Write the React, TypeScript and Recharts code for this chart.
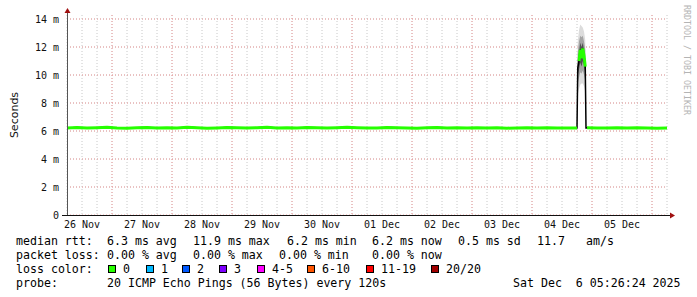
import React from 'react';
import { ComposedChart, Line, Area, XAxis, YAxis, CartesianGrid } from 'recharts';

// hours since 26 Nov 06:00 (plot start); 2.5 px per hour
const hours = [
  0, 4, 8, 12, 16, 20, 24, 28, 32, 36, 40, 44, 48, 52, 56, 60, 64, 68, 72, 76,
  80, 84, 88, 92, 96, 100, 104, 108, 112, 116, 120, 124, 128, 132, 136, 140, 144, 148, 152, 156,
  160, 164, 168, 172, 176, 180, 184, 188, 192, 196, 200, 204,
  204.3, 204.8, 205.3, 205.8, 206.3, 206.8, 207.3, 207.6,
  208, 212, 216, 220, 224, 228, 232, 236, 240,
];

// median rtt in ms
const median = [
  6.22, 6.25, 6.21, 6.24, 6.26, 6.22, 6.20, 6.23, 6.25, 6.21, 6.24, 6.22, 6.26, 6.23, 6.20, 6.22, 6.25, 6.24, 6.21, 6.23,
  6.26, 6.22, 6.24, 6.21, 6.25, 6.23, 6.22, 6.24, 6.26, 6.23, 6.21, 6.22, 6.25, 6.24, 6.22, 6.20, 6.23, 6.25, 6.22, 6.24,
  6.21, 6.23, 6.22, 6.24, 6.20, 6.22, 6.23, 6.21, 6.24, 6.22, 6.21, 6.22,
  10.5, 11.0, 11.8, 11.2, 11.9, 11.4, 10.6, 6.22,
  6.23, 6.21, 6.22, 6.24, 6.21, 6.23, 6.22, 6.20, 6.22,
];

// smoke around the spike on 04 Dec
const smokeHours = [204, 204.3, 204.8, 205.3, 205.8, 206.3, 206.8, 207.3, 207.6];
const smokeMin = [6.2, 8.6, 9.0, 9.3, 9.4, 9.4, 9.2, 8.8, 6.2];
const smokeMax = [6.2, 12.4, 13.2, 13.6, 13.5, 13.4, 13.1, 12.5, 6.2];
const smokeQ1 = [6.2, 9.4, 9.8, 10.2, 10.1, 10.3, 10.0, 9.6, 6.2];
const smokeQ3 = [6.2, 11.6, 12.4, 12.8, 12.7, 12.8, 12.4, 11.8, 6.2];
const smokeLo = [6.2, 10.0, 10.4, 10.9, 10.6, 11.0, 10.7, 10.1, 6.2];
const smokeHi = [6.2, 11.0, 11.6, 12.3, 12.0, 12.3, 11.8, 11.1, 6.2];

const dayTicks = [6, 30, 54, 78, 102, 126, 150, 174, 198, 222];
const dayLabels = ['26 Nov', '27 Nov', '28 Nov', '29 Nov', '30 Nov', '01 Dec', '02 Dec', '03 Dec', '04 Dec', '05 Dec'];
const midnights = [18, 42, 66, 90, 114, 138, 162, 186, 210, 234];
const sixHours = [0, 6, 12, 18, 24, 30, 36, 42, 48, 54, 60, 66, 72, 78, 84, 90, 96, 102, 108, 114, 120, 126, 132, 138, 144, 150,
  156, 162, 168, 174, 180, 186, 192, 198, 204, 210, 216, 222, 228, 234, 240];
const yTicks = [0, 2, 4, 6, 8, 10, 12, 14];
const yMinor = [0.5, 1, 1.5, 2, 2.5, 3, 3.5, 4, 4.5, 5, 5.5, 6, 6.5, 7, 7.5, 8, 8.5, 9, 9.5, 10, 10.5, 11, 11.5, 12, 12.5, 13, 13.5, 14];

const lossColors = [
  { label: '0', color: '#26ff00', x: 108 },
  { label: '1', color: '#00b8ff', x: 146 },
  { label: '2', color: '#0059ff', x: 182 },
  { label: '3', color: '#7e00ff', x: 219 },
  { label: '4-5', color: '#ff00ff', x: 257 },
  { label: '6-10', color: '#ff5500', x: 307 },
  { label: '11-19', color: '#ff0000', x: 366 },
  { label: '20/20', color: '#a10000', x: 431 },
];

const rows = hours.map((h, i) => {
  const s = smokeHours.indexOf(h);
  const jump = i > 0 && Math.abs(median[i] - median[i - 1]) > 2;
  return {
    h,
    median: median[i],
    green: jump ? null : median[i],
    outer: s >= 0 ? [smokeMin[s], smokeMax[s]] : undefined,
    mid: s >= 0 ? [smokeQ1[s], smokeQ3[s]] : undefined,
    inner: s >= 0 ? [smokeLo[s], smokeHi[s]] : undefined,
  };
});

const mono = '"DejaVu Sans Mono", monospace';

const Txt = ({ x, y, children }: { x: number; y: number; children: React.ReactNode }) => (
  <span style={{ position: 'absolute', left: x, top: y, whiteSpace: 'pre', lineHeight: '14px' }}>{children}</span>
);

export default function App() {
  const line1 = 234;
  const line2 = 248;
  const line3 = 262;
  const line4 = 276;
  return (
    <div style={{ position: 'absolute', left: 0, top: 0, width: 697, height: 297, background: '#fff', fontFamily: mono, fontSize: '11.6px', color: '#000', overflow: 'hidden' }}>
      <ComposedChart width={697} height={297} data={rows} margin={{ top: 15, right: 30, bottom: 62, left: 0 }}>
        <CartesianGrid stroke="#c8c8c8" strokeDasharray="1 2" horizontalValues={yMinor} verticalValues={sixHours} />
        <CartesianGrid stroke="#f0a0a0" strokeDasharray="1 2" horizontalValues={yTicks} verticalValues={midnights} />
        <XAxis
          dataKey="h"
          type="number"
          domain={[0, 240]}
          ticks={dayTicks}
          tickFormatter={(v: number) => dayLabels[dayTicks.indexOf(v)]}
          interval={0}
          height={20}
          tickSize={4}
          tickLine={false}
          axisLine={false}
          tick={{ fontSize: 10, fill: '#111', fontFamily: mono }}
          allowDataOverflow
        />
        <YAxis
          type="number"
          domain={[0, 200 / 14]}
          ticks={yTicks}
          tickFormatter={(v: number) => (v === 0 ? '0' : `${v} m`)}
          width={67}
          tickLine={false}
          axisLine={false}
          tick={{ fontSize: 10, fill: '#111', fontFamily: mono }}
          allowDataOverflow
        />
        <Area dataKey="outer" type="linear" stroke="none" fill="#dcdcdc" fillOpacity={1} isAnimationActive={false} />
        <Area dataKey="mid" type="linear" stroke="none" fill="#a4a4a4" fillOpacity={1} isAnimationActive={false} />
        <Area dataKey="inner" type="linear" stroke="none" fill="#505050" fillOpacity={1} isAnimationActive={false} />
        <Line dataKey="median" type="linear" stroke="#000" strokeWidth={1.5} dot={false} isAnimationActive={false} />
        <Line dataKey="green" type="linear" stroke="#26ff00" strokeWidth={3} dot={false} connectNulls={false} isAnimationActive={false} />
      </ComposedChart>

      <svg width={697} height={297} style={{ position: 'absolute', left: 0, top: 0 }}>
        <line x1={67.5} y1={12} x2={67.5} y2={216} stroke="#555" strokeWidth={1} />
        <line x1={62} y1={215.5} x2={671} y2={215.5} stroke="#111" strokeWidth={1} />
        <polygon points="64.5,13 70.5,13 67.5,8" fill="#a01010" />
        <polygon points="670,212.5 670,218.5 675,215.5" fill="#a01010" />
        <text x={14} y={115} transform="rotate(-90 14 115)" textAnchor="middle" dominantBaseline="central" fontFamily='"DejaVu Sans", sans-serif' fontSize={11} fill="#111">Seconds</text>
        <text x={687} y={5} transform="rotate(90 687 5)" textAnchor="start" dominantBaseline="central" fontFamily={mono} fontSize={8.3} fill="#b4b4b4">RRDTOOL / TOBI OETIKER</text>
      </svg>

      <Txt x={16} y={line1}>median rtt:</Txt>
      <Txt x={107} y={line1}>6.3 ms avg</Txt>
      <Txt x={193} y={line1}>11.9 ms max</Txt>
      <Txt x={287} y={line1}>6.2 ms min</Txt>
      <Txt x={372} y={line1}>6.2 ms now</Txt>
      <Txt x={458} y={line1}>0.5 ms sd</Txt>
      <Txt x={537} y={line1}>11.7</Txt>
      <Txt x={586} y={line1}>am/s</Txt>

      <Txt x={16} y={line2}>packet loss:</Txt>
      <Txt x={107} y={line2}>0.00 % avg</Txt>
      <Txt x={193} y={line2}>0.00 % max</Txt>
      <Txt x={279} y={line2}>0.00 % min</Txt>
      <Txt x={372} y={line2}>0.00 % now</Txt>

      <Txt x={16} y={line3}>loss color:</Txt>
      {lossColors.map((c) => (
        <React.Fragment key={c.label}>
          <span style={{ position: 'absolute', left: c.x, top: line3 + 3, width: 8, height: 8, boxSizing: 'border-box', border: '1px solid #000', background: c.color }} />
          <Txt x={c.x + 15} y={line3}>{c.label}</Txt>
        </React.Fragment>
      ))}

      <Txt x={16} y={line4}>probe:</Txt>
      <Txt x={107} y={line4}>20 ICMP Echo Pings (56 Bytes) every 120s</Txt>
      <Txt x={513} y={line4}>Sat Dec  6 05:26:24 2025</Txt>
    </div>
  );
}
